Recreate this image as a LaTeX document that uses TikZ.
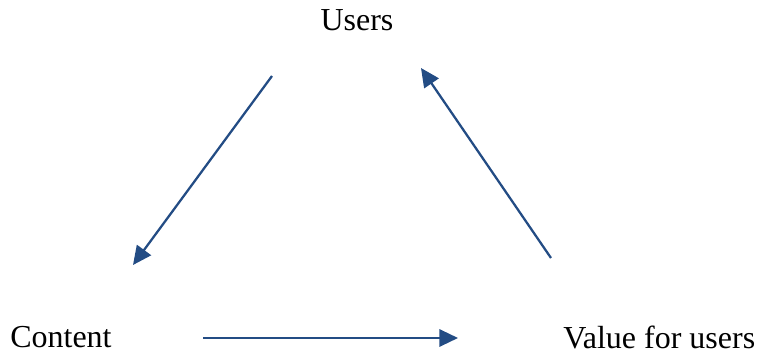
\documentclass[tikz,border=0pt]{standalone}
\usepackage{fontspec}
\setmainfont{Liberation Serif}
\usepackage{xcolor}
\usetikzlibrary{arrows.meta, positioning}
\definecolor{flowcolor}{HTML}{234C84}

\begin{document}
\begin{tikzpicture}[x=0.75pt, y=-0.75pt]
	\tikzstyle{label}=[inner sep=0pt, font=\fontsize{24}{29}\selectfont]
	\tikzstyle{flow}=[draw=flowcolor, line width=1.7pt, -{Triangle[length=14pt, width=13pt]}]

	\useasboundingbox (0,0) rectangle (758,356);

	\node (users) at (357,31) [label, anchor=base]{Users};
	\node (content) at (10,348) [label, anchor=base west]{Content};
	\node (value) at (563,349) [label, anchor=base west]{Value for users};

	% arrow ends, kept clear of the labels
	\coordinate (u1) at (272,76);
	\coordinate (c1) at (133,265);
	\coordinate (c2) at (203,338);
	\coordinate (v1) at (458,338);
	\coordinate (v2) at (551,258);
	\coordinate (u2) at (421,68);

	\draw[flow] (u1) -- (c1);
	\draw[flow] (c2) -- (v1);
	\draw[flow] (v2) -- (u2);
\end{tikzpicture}
\end{document}
